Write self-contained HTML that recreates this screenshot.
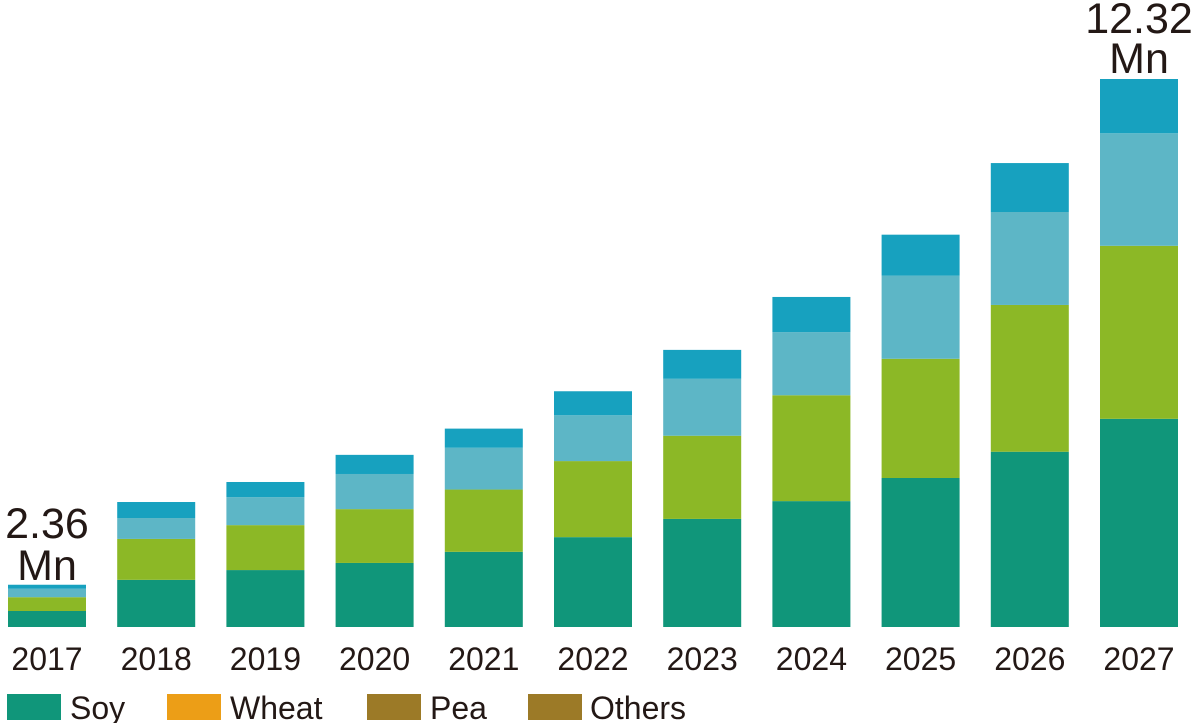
<!DOCTYPE html>
<html><head><meta charset="utf-8"><style>
html,body{margin:0;padding:0;background:#fff;}
svg{display:block;font-family:"Liberation Sans",sans-serif;}
</style></head><body>
<svg id="chart" width="1200" height="723" viewBox="0 0 1200 723" xmlns="http://www.w3.org/2000/svg">
<g id="bars"></g>
<g id="xlabels"></g>
<text x="47" y="538" font-size="43" text-anchor="middle" fill="#231815">2.36</text>
<text x="47" y="580" font-size="43" text-anchor="middle" fill="#231815">Mn</text>
<text x="1139" y="33" font-size="43" text-anchor="middle" fill="#231815">12.32</text>
<text x="1139" y="73" font-size="43" text-anchor="middle" fill="#231815">Mn</text>
<g>
<g><rect x="7" y="694" width="54" height="26" fill="#10967a"/><text x="70" y="719" font-size="32" fill="#231815">Soy</text></g>
<g><rect x="167" y="694" width="54" height="26" fill="#ec9e17"/><text x="230" y="719" font-size="32" fill="#231815">Wheat</text></g>
<g><rect x="367" y="694" width="54" height="26" fill="#9c7a27"/><text x="430" y="719" font-size="32" fill="#231815">Pea</text></g>
<g><rect x="528" y="694" width="54" height="26" fill="#9c7a27"/><text x="590" y="719" font-size="32" fill="#231815">Others</text></g>
</g>
</svg>
<script>
const categories = ["2017","2018","2019","2020","2021","2022","2023","2024","2025","2026","2027"];
const soy    = [0.36,1.06,1.28,1.44,1.69,2.02,2.43,2.83,3.35,3.94,4.68];
const green  = [0.31,0.92,1.01,1.21,1.40,1.71,1.87,2.38,2.68,3.30,3.89];
const light  = [0.19,0.47,0.63,0.79,0.94,1.03,1.28,1.42,1.87,2.09,2.53];
const blue   = [0.09,0.36,0.34,0.43,0.43,0.54,0.65,0.79,0.92,1.10,1.22];
const seriesColors = ["#10967a","#8cb826","#5db6c6","#17a1bf"];
const seriesNames = ["soy","green","light-blue","blue"];
const series = [soy, green, light, blue];
const baseY = 627, maxVal = 12.32, maxPx = 548;
const y = v => baseY - v / maxVal * maxPx;
const x0 = 8, step = 109.2, bw = 78;
const xPos = i => x0 + i * step;
const NS = "http://www.w3.org/2000/svg";
const bars = document.getElementById("bars"), xl = document.getElementById("xlabels");
categories.forEach((c, i) => {
  let acc = 0;
  series.forEach((s, k) => {
    const r = document.createElementNS(NS, "rect");
    
    
    r.setAttribute("x", xPos(i));
    r.setAttribute("width", bw);
    r.setAttribute("y", y(acc + s[i]));
    r.setAttribute("height", y(acc) - y(acc + s[i]));
    r.setAttribute("fill", seriesColors[k]);
    bars.appendChild(r);
    acc += s[i];
  });
  const t = document.createElementNS(NS, "text");
  
  
  t.setAttribute("x", xPos(i) + bw / 2);
  t.setAttribute("y", 670);
  t.setAttribute("font-size", "32");
  t.setAttribute("text-anchor", "middle");
  t.setAttribute("fill", "#231815");
  t.textContent = c;
  xl.appendChild(t);
});
</script>
</body></html>
